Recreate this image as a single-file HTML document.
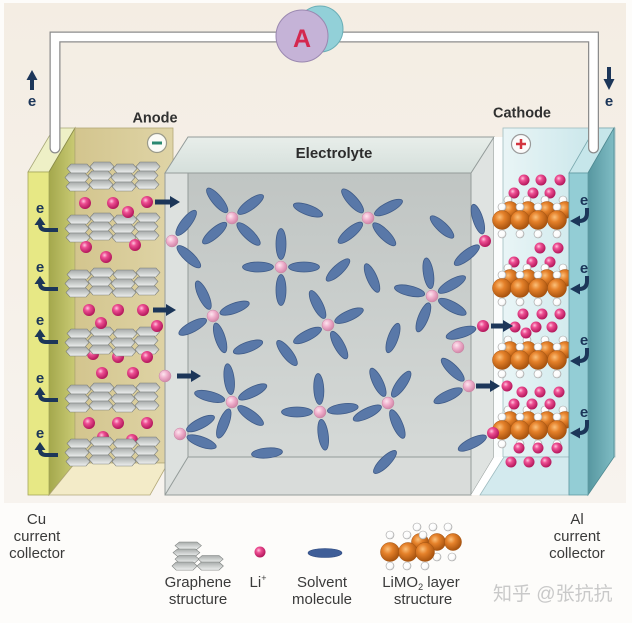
<!DOCTYPE html>
<html><head><meta charset="utf-8"><style>
html,body{margin:0;padding:0;background:#fdfcfa;width:632px;height:623px;overflow:hidden}
svg{display:block}
text{font-family:"Liberation Sans","Noto Sans CJK SC",sans-serif}
.p{fill:url(#gli)}
.q{fill:url(#glq);stroke:#c58aa5;stroke-width:.5}
.w{fill:url(#gw);stroke:#a0a0a0;stroke-width:.6}
.o{fill:url(#go);stroke:#a35210;stroke-width:.5}
.n{fill:#1c3659}
.e{font-weight:bold;font-size:15px;fill:#1c3659;text-anchor:middle}
.lg{font-size:15px;fill:#3a3a3a;text-anchor:middle}
</style></head><body>
<svg width="632" height="623" viewBox="0 0 632 623" xmlns="http://www.w3.org/2000/svg">
<defs>
<radialGradient id="gli" cx=".38" cy=".35" r=".65"><stop offset="0" stop-color="#ffc6df"/><stop offset=".35" stop-color="#ee4f93"/><stop offset="1" stop-color="#b3175b"/></radialGradient>
<radialGradient id="glq" cx=".38" cy=".35" r=".65"><stop offset="0" stop-color="#fde6ef"/><stop offset=".5" stop-color="#efaecb"/><stop offset="1" stop-color="#d286a8"/></radialGradient>
<radialGradient id="gw" cx=".4" cy=".4" r=".6"><stop offset="0" stop-color="#fff"/><stop offset=".7" stop-color="#fbfbfb"/><stop offset="1" stop-color="#cfcfcf"/></radialGradient>
<radialGradient id="go" cx=".38" cy=".35" r=".65"><stop offset="0" stop-color="#fbc07a"/><stop offset=".4" stop-color="#e5812a"/><stop offset="1" stop-color="#a9540f"/></radialGradient>
<linearGradient id="ghx" x1="0" y1="0" x2="0" y2="1"><stop offset="0" stop-color="#a7abaa"/><stop offset="1" stop-color="#eef0ef"/></linearGradient>
<linearGradient id="gbg" x1="0" y1="0" x2="0" y2="1"><stop offset="0" stop-color="#f4ede3"/><stop offset="1" stop-color="#f7f3ee"/></linearGradient>
<linearGradient id="gside" x1="0" y1="0" x2="1" y2="0"><stop offset="0" stop-color="#a4a84c"/><stop offset="1" stop-color="#c9ca74"/></linearGradient>
<linearGradient id="gtan" x1="0" y1="0" x2="1" y2="0"><stop offset="0" stop-color="#d3c58e"/><stop offset="1" stop-color="#dfd4a6"/></linearGradient>
<linearGradient id="gback" x1="0" y1="0" x2="0" y2="1"><stop offset="0" stop-color="#c0c5c3"/><stop offset="1" stop-color="#d5d9d7"/></linearGradient>
<linearGradient id="gtop" x1="0" y1="0" x2="0" y2="1"><stop offset="0" stop-color="#e8eeea"/><stop offset="1" stop-color="#d5dfdb"/></linearGradient>
<linearGradient id="gcat" x1="0" y1="0" x2="1" y2="0"><stop offset="0" stop-color="#e9f5f6"/><stop offset="1" stop-color="#c3e3e8"/></linearGradient>
<linearGradient id="galside" x1="0" y1="0" x2="1" y2="0"><stop offset="0" stop-color="#5797a0"/><stop offset="1" stop-color="#7fbcc4"/></linearGradient>
<ellipse id="pt" cx="0" cy="-23" rx="5" ry="15.5" fill="#5978a8" stroke="#3f5b88" stroke-width=".8"/>
<ellipse id="pe" cx="0" cy="0" rx="15.5" ry="5" fill="#5978a8" stroke="#3f5b88" stroke-width=".8"/>
<polygon id="hx" points="4,0 20,0 24,4.5 20,9 4,9 0,4.5" fill="url(#ghx)" stroke="#7b7f7d" stroke-width=".6"/>
<g id="gl"><use href="#hx" x="0" y="2"/><use href="#hx" x="23" y="0"/><use href="#hx" x="46" y="2"/><use href="#hx" x="69" y="0"/></g>
<g id="gs"><use href="#gl" x="2" y="0"/><use href="#gl" x="0" y="9"/><use href="#gl" x="1" y="18"/></g>
<g id="lay">
<circle class="w" cx="508" cy="-20" r="4"/><circle class="w" cx="527" cy="-20" r="4"/><circle class="w" cx="545" cy="-20" r="4"/><circle class="w" cx="563" cy="-20" r="4"/>
<circle class="o" cx="510" cy="-10" r="8.5"/><circle class="o" cx="528" cy="-10" r="8.5"/><circle class="o" cx="547" cy="-10" r="8.5"/><circle class="o" cx="565" cy="-10" r="8.5"/>
<circle class="w" cx="502" cy="-13" r="4"/><circle class="w" cx="520" cy="-13" r="4"/><circle class="w" cx="538" cy="-13" r="4"/><circle class="w" cx="557" cy="-13" r="4"/>
<circle class="o" cx="502" cy="0" r="9.5"/><circle class="o" cx="520" cy="0" r="9.5"/><circle class="o" cx="538" cy="0" r="9.5"/><circle class="o" cx="557" cy="0" r="9.5"/>
<circle class="w" cx="502" cy="14" r="4"/><circle class="w" cx="520" cy="14" r="4"/><circle class="w" cx="538" cy="14" r="4"/><circle class="w" cx="557" cy="14" r="4"/>
</g>
</defs>

<rect width="632" height="623" fill="#fdfcfa"/>
<rect x="4" y="3" width="622" height="500" fill="url(#gbg)"/>

<!-- Cu collector -->
<polygon points="28,172 49,172 75,128 54,128" fill="#eef0c6" stroke="#a8a878" stroke-width=".8"/>
<polygon points="49,172 75,128 75,463 49,495" fill="url(#gside)" stroke="#8a8c48" stroke-width=".8"/>
<rect x="28" y="172" width="21" height="323" fill="#e7e885" stroke="#a6a65a" stroke-width=".8"/>

<!-- Anode -->
<rect x="75" y="128" width="98" height="335" fill="url(#gtan)" stroke="#b3a878" stroke-width=".8"/>
<polygon points="49,495 75,463 168,463 150,495" fill="#f3ebc8" stroke="#b3a878" stroke-width=".8"/>

<circle class="p" cx="93" cy="354" r="6"/><circle class="p" cx="118" cy="357" r="6"/>
<circle class="p" cx="103" cy="437" r="6"/><circle class="p" cx="132" cy="440" r="6"/>
<use href="#gs" x="65" y="162"/>
<use href="#gs" x="65" y="213"/>
<use href="#gs" x="65" y="268"/>
<use href="#gs" x="65" y="327"/>
<use href="#gs" x="65" y="383"/>
<use href="#gs" x="65" y="437"/>
<g>
<circle class="p" cx="85" cy="203" r="6"/><circle class="p" cx="113" cy="203" r="6"/><circle class="p" cx="128" cy="212" r="6"/><circle class="p" cx="147" cy="202" r="6"/>
<circle class="p" cx="86" cy="247" r="6"/><circle class="p" cx="135" cy="245" r="6"/><circle class="p" cx="106" cy="257" r="6"/>
<circle class="p" cx="89" cy="310" r="6"/><circle class="p" cx="118" cy="310" r="6"/><circle class="p" cx="143" cy="310" r="6"/><circle class="p" cx="101" cy="323" r="6"/><circle class="p" cx="157" cy="326" r="6"/>
<circle class="p" cx="147" cy="357" r="6"/><circle class="p" cx="102" cy="373" r="6"/><circle class="p" cx="133" cy="373" r="6"/>
<circle class="p" cx="89" cy="423" r="6"/><circle class="p" cx="118" cy="423" r="6"/><circle class="p" cx="147" cy="423" r="6"/>
</g>

<!-- Electrolyte box -->
<rect x="188" y="173" width="283" height="284" fill="url(#gback)"/>
<polygon points="165,173 188,173 188,457 165,495" fill="#dde1df"/>
<polygon points="165,495 188,457 471,457 471,495" fill="#d9dcda"/>
<polygon points="471,173 494,137 494,457 471,495" fill="#dfe3e1"/>
<polygon points="165,173 188,137 494,137 471,173" fill="url(#gtop)" stroke="#939b99" stroke-width="1"/>
<path d="M188,173 V457 H471 M188,457 L165,495 M494,137 V457 L471,495" fill="none" stroke="#939b99" stroke-width="1"/>
<rect x="165" y="173" width="306" height="322" fill="none" stroke="#959c9a" stroke-width="1"/>
<text x="334" y="158" font-size="15" font-weight="bold" fill="#2c2c2c" text-anchor="middle">Electrolyte</text>

<!-- lone solvent molecules -->
<use href="#pe" transform="translate(308,210) rotate(20)"/>
<use href="#pe" transform="translate(442,227) rotate(43)"/>
<use href="#pe" transform="translate(338,270) rotate(-43)"/>
<use href="#pe" transform="translate(372,278) rotate(66)"/>
<use href="#pe" transform="translate(248,347) rotate(-20)"/>
<use href="#pe" transform="translate(287,353) rotate(52)"/>
<use href="#pe" transform="translate(393,338) rotate(-70)"/>
<use href="#pe" transform="translate(267,453) rotate(-5)"/>
<use href="#pe" transform="translate(385,462) rotate(-45)"/>

<!-- solvated clusters -->
<g transform="translate(232,218)"><use href="#pt" transform="rotate(-40)"/><use href="#pt" transform="rotate(54)"/><use href="#pt" transform="rotate(229)"/><use href="#pt" transform="rotate(134)"/><circle class="q" r="6"/></g>
<g transform="translate(368,218)"><use href="#pt" transform="rotate(-42)"/><use href="#pt" transform="rotate(63)"/><use href="#pt" transform="rotate(230)"/><use href="#pt" transform="rotate(135)"/><circle class="q" r="6"/></g>
<g transform="translate(281,267)"><use href="#pt" transform="rotate(0)"/><use href="#pt" transform="rotate(90)"/><use href="#pt" transform="rotate(180)"/><use href="#pt" transform="rotate(270)"/><circle class="q" r="6"/></g>
<g transform="translate(213,316)"><use href="#pt" transform="rotate(-25)"/><use href="#pt" transform="rotate(70)"/><use href="#pt" transform="rotate(242)"/><use href="#pt" transform="rotate(162)"/><circle class="q" r="6"/></g>
<g transform="translate(328,325)"><use href="#pt" transform="rotate(-27)"/><use href="#pt" transform="rotate(66)"/><use href="#pt" transform="rotate(243)"/><use href="#pt" transform="rotate(151)"/><circle class="q" r="6"/></g>
<g transform="translate(432,296)"><use href="#pt" transform="rotate(-9)"/><use href="#pt" transform="rotate(-77)"/><use href="#pt" transform="rotate(60)"/><use href="#pt" transform="rotate(118)"/><use href="#pt" transform="rotate(202)"/><circle class="q" r="6"/></g>
<g transform="translate(232,402)"><use href="#pt" transform="rotate(-7)"/><use href="#pt" transform="rotate(64)"/><use href="#pt" transform="rotate(-76)"/><use href="#pt" transform="rotate(126)"/><use href="#pt" transform="rotate(201)"/><circle class="q" r="6"/></g>
<g transform="translate(320,412)"><use href="#pt" transform="rotate(-3)"/><use href="#pt" transform="rotate(82)"/><use href="#pt" transform="rotate(172)"/><use href="#pt" transform="rotate(270)"/><circle class="q" r="6"/></g>
<g transform="translate(388,403)"><use href="#pt" transform="rotate(-26)"/><use href="#pt" transform="rotate(35)"/><use href="#pt" transform="rotate(244)"/><use href="#pt" transform="rotate(156)"/><circle class="q" r="6"/></g>
<g transform="translate(172,241)"><use href="#pt" transform="rotate(38)"/><use href="#pt" transform="rotate(133)"/><circle class="q" r="6"/></g>
<g transform="translate(180,434)"><use href="#pt" transform="rotate(63)"/><use href="#pt" transform="rotate(110)"/><circle class="q" r="6"/></g>
<g transform="translate(485,241)"><use href="#pt" transform="rotate(-18)"/><use href="#pt" transform="rotate(232)"/><circle class="p" r="6"/></g>
<g transform="translate(483,326)"><use href="#pt" transform="rotate(253)"/><circle class="p" r="6"/></g>
<circle class="q" cx="458" cy="347" r="6"/>
<g transform="translate(469,386)"><use href="#pt" transform="rotate(-45)"/><use href="#pt" transform="rotate(245)"/><circle class="q" r="6"/></g>
<circle class="q" cx="165" cy="376" r="6"/>

<!-- Cathode box -->
<rect x="494" y="137" width="9" height="358" fill="#fbfdfd"/>
<rect x="503" y="128" width="112" height="329" fill="url(#gcat)" stroke="#9fbcc0" stroke-width=".8"/>
<polygon points="471,495 494,457 504,457 480,495" fill="#ffffff"/>
<polygon points="480,495 504,457 569,457 569,495" fill="#d3eaee" stroke="#9fbcc0" stroke-width=".8"/>
<g transform="translate(493,433)"><use href="#pt" transform="rotate(244)"/></g>

<g>
<circle class="p" cx="524" cy="180" r="5.5"/><circle class="p" cx="541" cy="180" r="5.5"/><circle class="p" cx="560" cy="180" r="5.5"/>
<circle class="p" cx="514" cy="193" r="5.5"/><circle class="p" cx="533" cy="193" r="5.5"/><circle class="p" cx="550" cy="193" r="5.5"/>
<circle class="p" cx="540" cy="248" r="5.5"/><circle class="p" cx="558" cy="248" r="5.5"/>
<circle class="p" cx="514" cy="262" r="5.5"/><circle class="p" cx="532" cy="262" r="5.5"/><circle class="p" cx="550" cy="262" r="5.5"/>
</g>
<use href="#lay" y="220"/>
<use href="#lay" y="288"/>
<use href="#lay" y="360"/>
<use href="#lay" y="430"/>
<g>
<circle class="p" cx="523" cy="314" r="5.5"/><circle class="p" cx="542" cy="314" r="5.5"/><circle class="p" cx="560" cy="314" r="5.5"/>
<circle class="p" cx="515" cy="327" r="5.5"/><circle class="p" cx="526" cy="333" r="5.5"/><circle class="p" cx="536" cy="327" r="5.5"/><circle class="p" cx="552" cy="327" r="5.5"/>
<circle class="p" cx="507" cy="386" r="5.5"/><circle class="p" cx="522" cy="392" r="5.5"/><circle class="p" cx="540" cy="392" r="5.5"/><circle class="p" cx="559" cy="392" r="5.5"/>
<circle class="p" cx="514" cy="404" r="5.5"/><circle class="p" cx="532" cy="404" r="5.5"/><circle class="p" cx="550" cy="404" r="5.5"/>
<circle class="p" cx="519" cy="448" r="5.5"/><circle class="p" cx="538" cy="448" r="5.5"/><circle class="p" cx="557" cy="448" r="5.5"/>
<circle class="p" cx="511" cy="462" r="5.5"/><circle class="p" cx="529" cy="462" r="5.5"/><circle class="p" cx="546" cy="462" r="5.5"/>
</g>
<circle class="p" cx="493" cy="433" r="6"/>

<!-- Li+ arrows -->
<g class="n">
<rect x="155" y="199.5" width="16" height="5"/><polygon points="170,196 180,202 170,208"/>
<rect x="153" y="307.5" width="14" height="5"/><polygon points="166,304 176,310 166,316"/>
<rect x="177" y="373.5" width="15" height="5"/><polygon points="191,370 201,376 191,382"/>
<rect x="491" y="323.5" width="13" height="5"/><polygon points="503,320 513,326 503,332"/>
<rect x="476" y="383.5" width="15" height="5"/><polygon points="490,380 500,386 490,392"/>
</g>

<!-- Al collector -->
<polygon points="569,173 588,173 614,128 595,128" fill="#c6e6ea" stroke="#7aa8ae" stroke-width=".8"/>
<polygon points="588,173 614,128 614,457 588,495" fill="url(#galside)" stroke="#4f8a92" stroke-width=".8"/>
<rect x="569" y="173" width="19" height="322" fill="#93cdd5" stroke="#5f9aa2" stroke-width=".8"/>

<!-- Wire -->
<path d="M55,148 V37 H593.5 V148" fill="none" stroke="#8c8c8c" stroke-width="11" stroke-linecap="round"/>
<path d="M55,148 V37 H593.5 V148" fill="none" stroke="#ffffff" stroke-width="8.5" stroke-linecap="round"/>

<!-- Ammeter -->
<circle cx="320" cy="29" r="23" fill="#92d0d8" stroke="#6aaeb6" stroke-width="1"/>
<circle cx="302" cy="36" r="26" fill="#c5b3d7" stroke="#9a88b0" stroke-width="1"/>
<text x="302" y="47" font-size="25" font-weight="bold" fill="#d4284f" text-anchor="middle">A</text>

<!-- Labels -->
<text x="155" y="122.5" font-size="14.5" font-weight="bold" fill="#303030" text-anchor="middle">Anode</text>
<text x="522" y="117.5" font-size="14.5" font-weight="bold" fill="#303030" text-anchor="middle">Cathode</text>
<circle cx="157" cy="143" r="9.5" fill="#fbfbf6" stroke="#9a9a8a" stroke-width="1.2"/>
<line x1="152" y1="143" x2="162" y2="143" stroke="#2a8870" stroke-width="3"/>
<circle cx="521" cy="144" r="9.5" fill="#fbfbfb" stroke="#9a9a9a" stroke-width="1.2"/>
<line x1="516" y1="144" x2="526" y2="144" stroke="#d3343f" stroke-width="2.5"/>
<line x1="521" y1="139" x2="521" y2="149" stroke="#d3343f" stroke-width="2.5"/>

<!-- external electron arrows -->
<g class="n">
<polygon points="26.5,80 32,70 37.5,80"/><rect x="30" y="79" width="4" height="11"/>
<rect x="607" y="67" width="4" height="13"/><polygon points="603.5,79 609,90 614.5,79"/>
</g>
<text class="e" x="32" y="106">e</text>
<text class="e" x="609" y="106">e</text>

<!-- anode collector electrons -->
<g fill="none" stroke="#1c3659" stroke-width="4">
<path d="M58,230 H46 Q40,230 40,224"/>
<path d="M58,289 H46 Q40,289 40,283"/>
<path d="M58,342 H46 Q40,342 40,336"/>
<path d="M58,400 H46 Q40,400 40,394"/>
<path d="M58,455 H46 Q40,455 40,449"/>
</g>
<g class="n">
<polygon points="34.5,225 45.5,225 40,217"/>
<polygon points="34.5,284 45.5,284 40,276"/>
<polygon points="34.5,337 45.5,337 40,329"/>
<polygon points="34.5,395 45.5,395 40,387"/>
<polygon points="34.5,450 45.5,450 40,442"/>
</g>
<text class="e" x="40" y="213">e</text>
<text class="e" x="40" y="272">e</text>
<text class="e" x="40" y="325">e</text>
<text class="e" x="40" y="383">e</text>
<text class="e" x="40" y="438">e</text>

<!-- cathode collector electrons -->
<g fill="none" stroke="#1c3659" stroke-width="4">
<path d="M587,208 V213 Q587,221 579,221"/>
<path d="M587,276 V281 Q587,289 579,289"/>
<path d="M587,348 V353 Q587,361 579,361"/>
<path d="M587,420 V425 Q587,433 579,433"/>
</g>
<g class="n">
<polygon points="580,215.5 580,226.5 570,221"/>
<polygon points="580,283.5 580,294.5 570,289"/>
<polygon points="580,355.5 580,366.5 570,361"/>
<polygon points="580,427.5 580,438.5 570,433"/>
</g>
<text class="e" x="584" y="205">e</text>
<text class="e" x="584" y="273">e</text>
<text class="e" x="584" y="345">e</text>
<text class="e" x="584" y="417">e</text>

<!-- Legend -->
<text class="lg" x="36.5" y="524">Cu</text>
<text class="lg" x="37" y="541">current</text>
<text class="lg" x="37" y="558">collector</text>
<text class="lg" x="577" y="524">Al</text>
<text class="lg" x="577" y="541">current</text>
<text class="lg" x="577" y="558">collector</text>

<use href="#hx" transform="translate(175,542) scale(1.1,0.8)"/>
<use href="#hx" transform="translate(173,549) scale(1.12,0.8)"/>
<use href="#hx" transform="translate(198,555.5) scale(1.05,0.8)"/>
<use href="#hx" transform="translate(175,555.5) scale(1.0,0.8)"/>
<use href="#hx" transform="translate(197,562) scale(1.1,0.9)"/>
<use href="#hx" transform="translate(172,562) scale(1.05,0.9)"/>
<text class="lg" x="198" y="587">Graphene</text>
<text class="lg" x="198" y="604">structure</text>

<circle class="p" cx="260" cy="552" r="5.5"/>
<text class="lg" x="258" y="587">Li<tspan font-size="9" dy="-6">+</tspan></text>

<ellipse cx="325" cy="553" rx="17" ry="4.5" fill="#3f5e98" stroke="#2f4a80" stroke-width=".6"/>
<text class="lg" x="322" y="587">Solvent</text>
<text class="lg" x="322" y="604">molecule</text>

<g>
<circle class="w" cx="417" cy="527" r="4"/><circle class="w" cx="433" cy="527" r="4"/><circle class="w" cx="448" cy="527" r="4"/>
<circle class="w" cx="437" cy="557" r="4"/><circle class="w" cx="452" cy="557" r="4"/>
<circle class="o" cx="420" cy="542" r="8.5"/><circle class="o" cx="437" cy="542" r="8.5"/><circle class="o" cx="453" cy="542" r="8.5"/>
<circle class="w" cx="390" cy="535" r="4"/><circle class="w" cx="407" cy="535" r="4"/><circle class="w" cx="423" cy="535" r="4"/>
<circle class="o" cx="390" cy="552" r="9.5"/><circle class="o" cx="408" cy="552" r="9.5"/><circle class="o" cx="425" cy="552" r="9.5"/>
<circle class="w" cx="390" cy="566" r="4"/><circle class="w" cx="407" cy="566" r="4"/><circle class="w" cx="425" cy="566" r="4"/>
</g>
<text class="lg" x="421" y="587">LiMO<tspan font-size="9" dy="3">2</tspan><tspan dy="-3"> layer</tspan></text>
<text class="lg" x="423" y="604">structure</text>

<text x="493" y="600" font-size="19" fill="#c9c9c9" font-family="Liberation Sans, Noto Sans CJK SC, sans-serif">知乎 @张抗抗</text>
</svg>
</body></html>
